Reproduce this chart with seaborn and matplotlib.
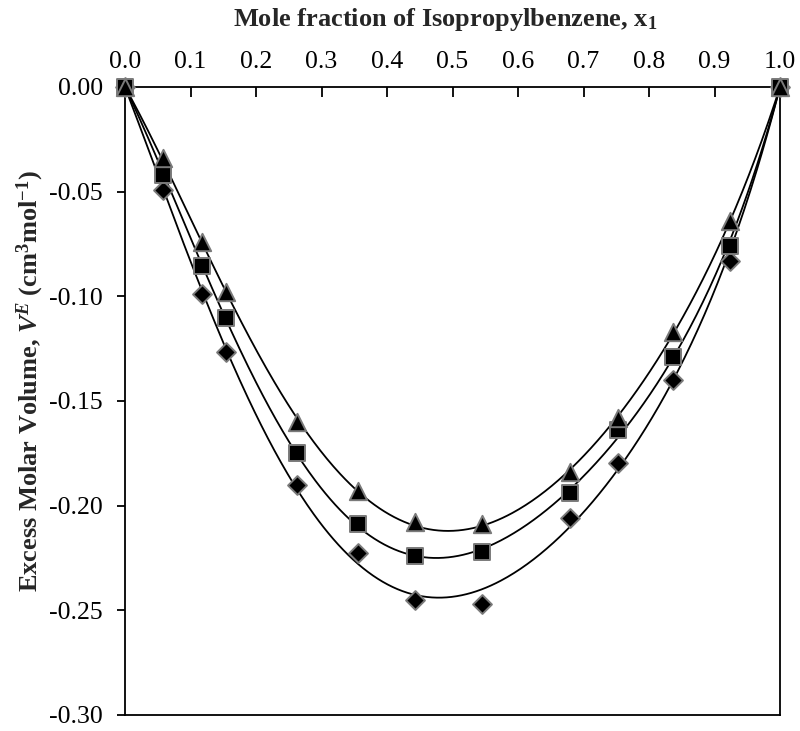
import numpy as np
import pandas as pd
import matplotlib
matplotlib.use("Agg")
import matplotlib.pyplot as plt
import seaborn as sns

# ---- data ----
x1 = [0.0, 0.058, 0.118, 0.154, 0.262, 0.355, 0.443, 0.545, 0.679, 0.753, 0.837, 0.923, 1.0]
ve_triangle = [0.0, -0.034, -0.074, -0.098, -0.160, -0.193, -0.208, -0.209, -0.184, -0.158, -0.117, -0.064, 0.0]
ve_square = [0.0, -0.042, -0.0855, -0.1105, -0.175, -0.209, -0.224, -0.222, -0.194, -0.164, -0.129, -0.076, 0.0]
ve_diamond = [0.0, -0.049, -0.099, -0.1265, -0.190, -0.2225, -0.245, -0.247, -0.206, -0.1795, -0.140, -0.083, 0.0]

x_ticks = [0.0, 0.1, 0.2, 0.3, 0.4, 0.5, 0.6, 0.7, 0.8, 0.9, 1.0]
y_ticks = [0.00, -0.05, -0.10, -0.15, -0.20, -0.25, -0.30]

sns.set_style("white")
plt.rcParams["font.family"] = ["Liberation Serif", "DejaVu Serif"]
plt.rcParams["mathtext.fontset"] = "custom"
plt.rcParams["mathtext.rm"] = "Liberation Serif"
plt.rcParams["mathtext.it"] = "Liberation Serif:italic"
plt.rcParams["mathtext.bf"] = "Liberation Serif:bold"
plt.rcParams["mathtext.bfit"] = "Liberation Serif:bold:italic"
plt.rcParams["axes.unicode_minus"] = False

fig = plt.figure(figsize=(8.0, 7.31), dpi=100)
ax = fig.add_axes([0.15625, 0.0219, 0.81875, 0.8591])


def rk_fit(x, y, nterms=4):
    x = np.asarray(x, float)
    y = np.asarray(y, float)
    basis = np.column_stack([x * (1 - x) * (2 * x - 1) ** k for k in range(nterms)])
    coef, *_ = np.linalg.lstsq(basis, y, rcond=None)
    xs = np.linspace(0, 1, 400)
    bs = np.column_stack([xs * (1 - xs) * (2 * xs - 1) ** k for k in range(nterms)])
    return xs, bs @ coef


series = [
    ("diamond", ve_diamond, "D", 9.6),
    ("square", ve_square, "s", 11.5),
    ("triangle", ve_triangle, "^", 12.5),
]

# fitted curves
for name, ys, m, ms in series:
    xs, yf = rk_fit(x1, ys)
    sns.lineplot(x=xs, y=yf, ax=ax, color="black", linewidth=1.3, zorder=2)

# data points
for z, (name, ys, m, ms) in enumerate(series):
    df = pd.DataFrame({"x": x1, "y": ys})
    sns.scatterplot(data=df, x="x", y="y", ax=ax, marker=m, s=ms ** 2,
                    color="black", edgecolor="#7a7a7a", linewidth=1.4,
                    zorder=3 + z, clip_on=False)

ax.set_xlim(0, 1)
ax.set_ylim(-0.30, 0.0)
ax.set_xticks(x_ticks)
ax.set_xticklabels([f"{t:.1f}" for t in x_ticks])
ax.set_yticks(y_ticks)
ax.set_yticklabels([f"{t:.2f}" if t != 0 else "0.00" for t in y_ticks])

ax.xaxis.set_ticks_position("top")
ax.xaxis.set_label_position("top")
ax.tick_params(axis="x", direction="in", length=7, width=1.3, labelsize=18.5,
               pad=10, top=True, bottom=False, colors="black")
ax.tick_params(axis="y", direction="out", length=6, width=1.3, labelsize=18.5,
               pad=10, left=True, right=False, colors="black")

for sp in ax.spines.values():
    sp.set_visible(True)
    sp.set_color("black")
    sp.set_linewidth(1.3)

ax.set_xlabel(r"Mole fraction of Isopropylbenzene, x$_{\mathbf{1}}$",
              fontsize=19, fontweight="bold")
ax.set_ylabel(r"Excess Molar Volume, $\mathbfit{V}^{\mathbfit{E}}$ (cm$^{\mathbf{3}}$mol$^{\mathbf{-1}}$)",
              fontsize=19, fontweight="bold")
ax.xaxis.set_label_coords(0.489, 1.097)
ax.yaxis.set_label_coords(-0.145, 0.532)
ax.yaxis.label.set_va("center")
ax.grid(False)

fig.savefig("out.png", dpi=100)
